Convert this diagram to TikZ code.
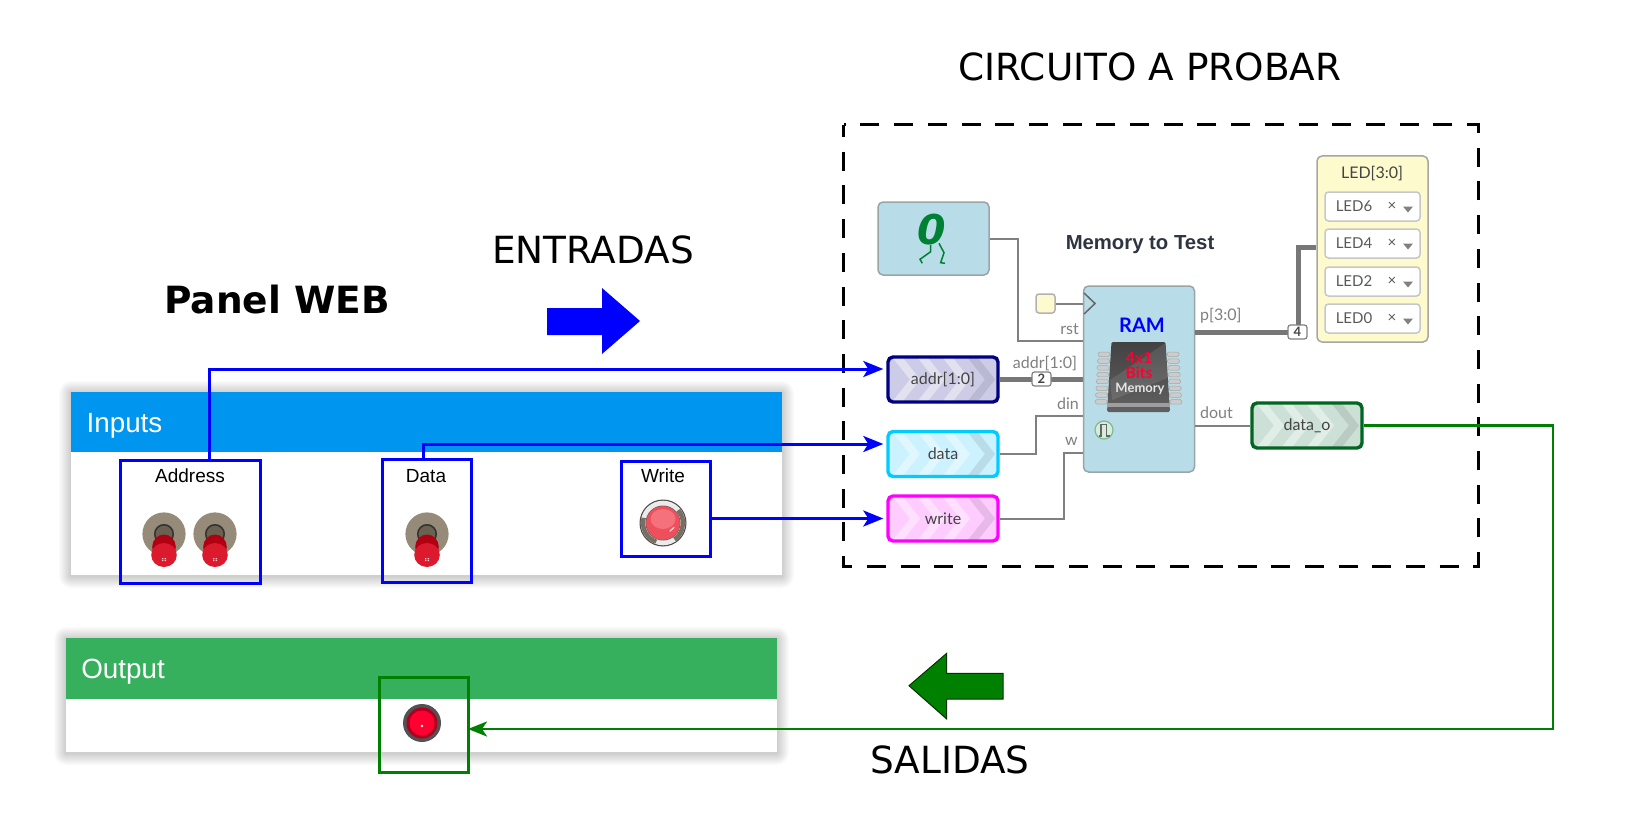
\documentclass[tikz,border=0pt]{standalone}
\usepackage{fontspec}
\setmainfont{Liberation Sans}
\newfontfamily\lato{Lato}
\newfontfamily\dejavu{DejaVu Sans}
\usetikzlibrary{arrows.meta,calc}
\definecolor{blockblue}{HTML}{B8DCE8}
\definecolor{blockedge}{HTML}{9AA5A8}
\definecolor{noteyellow}{HTML}{FDFBCD}
\definecolor{wiregray}{HTML}{808080}
\definecolor{busgray}{HTML}{777777}
\definecolor{labelgray}{HTML}{808080}
\definecolor{inkgray}{HTML}{444444}
\definecolor{headblue}{HTML}{0095EE}
\definecolor{headgreen}{HTML}{36B05C}
\definecolor{darkgreen}{HTML}{008000}
\definecolor{iconRed}{HTML}{DC1A2E}
\definecolor{iconDarkRed}{HTML}{B00012}
\definecolor{discgray}{HTML}{968B78}
\definecolor{holegray}{HTML}{6A6150}
\definecolor{btnred}{HTML}{EE4F5B}
\definecolor{btnlight}{HTML}{F4727C}
\definecolor{btnbrown}{HTML}{7A6E62}
\definecolor{ledouter}{HTML}{B00020}
\definecolor{ledinner}{HTML}{FF0030}
\definecolor{zerogreen}{HTML}{008033}
\definecolor{chipred}{HTML}{FF0030}
\definecolor{markfill}{HTML}{D8ECDC}
\definecolor{markedge}{HTML}{7DBB90}
\definecolor{navyedge}{HTML}{000080}
\definecolor{navyfill}{HTML}{CCCCE6}
\definecolor{cyanedge}{HTML}{00CCFF}
\definecolor{cyanfill}{HTML}{CCF2FF}
\definecolor{magedge}{HTML}{FF00FF}
\definecolor{magfill}{HTML}{FFCCFF}
\definecolor{goutedge}{HTML}{006622}
\definecolor{goutfill}{HTML}{CCE0D6}
\definecolor{memink}{HTML}{2F3540}
\tikzset{
  x=1pt,y=-1pt,
  fpx/.style={font=\fontsize{#1}{#1}\selectfont},
  title/.style={inner sep=0pt,font=\dejavu\fontsize{37.4}{37.4}\selectfont},
  icefont/.style={font=\lato\fontsize{#1}{#1}\selectfont},
  iceblock/.style={draw=blockedge,line width=1.5pt,fill=blockblue,rounded corners=5pt,inner sep=0pt},
  pin/.style={rounded corners=5pt,line width=3.4pt,minimum width=110pt,minimum height=45pt,inner sep=0pt,
    icefont=16,text=inkgray},
  portlabel/.style={inner sep=0pt,icefont=16,text=labelgray},
  badge/.style={draw=wiregray,line width=1.2pt,fill=white,rounded corners=2.5pt,minimum width=19pt,minimum height=14pt,inner sep=0pt,
    font=\lato\bfseries\fontsize{13}{13}\selectfont,text=inkgray},
  wire/.style={draw=wiregray,line width=2pt},
  bus/.style={draw=busgray,line width=5pt},
  ledrow/.style={draw=black!22,line width=1.5pt,fill=white,rounded corners=3.5pt,minimum width=95pt,minimum height=29pt,inner sep=0pt},
  rowtext/.style={inner sep=0pt,icefont=15,text=black!65},
  bluebox/.style={draw=blue,line width=3pt,inner sep=0pt},
  greenbox/.style={draw=darkgreen,line width=3pt,inner sep=0pt},
  bluelink/.style={draw=blue,line width=3pt,shorten >=3pt,-{Stealth[length=20pt,width=16pt,inset=5pt]}},
  greenlink/.style={draw=darkgreen,line width=2.8pt,shorten >=-2pt,-{Stealth[length=19pt,width=15pt,inset=5pt]}},
  panel/.style={fill=white,inner sep=0pt},
  paneltitle/.style={inner sep=0pt,text=white,fpx=27.8},
  panelhead/.style={inner sep=0pt},
  ctrl/.style={inner sep=0pt,fpx=19},
  chippin/.style={fill=black!20,draw=black!35,line width=.5pt,rounded corners=1.5pt},
}
% soft shadow behind a panel: #1 left, #2 top, #3 right, #4 bottom
\newcommand{\softshadow}[4]{%
  \foreach \r in {1,2,...,12}{
    \fill[black,opacity=.017,rounded corners=\r pt] (#1-\r,#2-\r+1) rectangle (#3+\r,#4+\r+1);
  }}
% toggle switch centred on the disc
\newcommand{\toggleicon}[2]{%
  \begin{scope}[shift={(#1,#2)}]
    \fill[discgray] (0,0) circle (21.6);
    \fill[holegray] (0,0) circle (10);
    \draw[black!80,line width=1.5pt] (0,0) circle (9.2);
    \fill[iconDarkRed] (0,13) ellipse (11.8 and 12.5);
    \fill[iconRed] (0,21) ellipse (12.8 and 12);
    \fill[white!80!iconRed] (-2,24) rectangle (-.7,25.2) (.7,24) rectangle (2,25.2) (-2,25.8) rectangle (-.7,27) (.7,25.8) rectangle (2,27);
  \end{scope}}
% input/output pin block: name, x, y, text, edge, fill
\newcommand{\iceport}[6]{%
  \fill[#6,rounded corners=5pt] (#2-55,#3-22.5) rectangle (#2+55,#3+22.5);
  \begin{scope}
    \clip[rounded corners=5pt] (#2-55,#3-22.5) rectangle (#2+55,#3+22.5);
    \foreach \k in {0,1,2}{
      \draw[white,opacity=.42,line width=8pt,miter limit=10] (#2-55+8+25*\k,#3-24) -- (#2-55+27+25*\k,#3) -- (#2-55+8+25*\k,#3+24);
    }
    \draw[black,opacity=.09,line width=8pt] (#2-55+83,#3-24) -- (#2-55+102,#3) -- (#2-55+83,#3+24);
  \end{scope}
  \node[pin,draw=#5] (#1) at (#2,#3) {#4};}
\begin{document}
\begin{tikzpicture}
\useasboundingbox (0,0) rectangle (1633,824);
\fill[white] (0,0) rectangle (1633,824);

% --- titles
\node[title] (tcirc) at (1150,67) {CIRCUITO A PROBAR};
\node[title] (tent) at (593,250) {ENTRADAS};
\node[title] (tsal) at (950,760) {SALIDAS};
\node[title,font=\dejavu\bfseries\fontsize{37.5}{37.5}\selectfont] (tpanel) at (277,300) {Panel WEB};

% --- big arrows
\fill[blue] (547,308) -- (602,308) -- (602,288) -- (640,321) -- (602,354) -- (602,335) -- (547,335) -- cycle;
\filldraw[fill=darkgreen,draw=black!60!darkgreen,line width=1pt] (1003,673.3) -- (946.7,673.3) -- (946.7,653.3) -- (909,685.7) -- (946.7,719) -- (946.7,699) -- (1003,699) -- cycle;

% --- Inputs panel
\softshadow{71}{392}{782}{575}
\node[panel,minimum width=711pt,minimum height=183pt] (inputs) at (426.5,483.5) {};
\node[panelhead,fill=headblue,minimum width=711pt,minimum height=60pt] (inhead) at (426.5,422) {};
\node[paneltitle] (intitle) at (124.5,426) {Inputs};

% --- Output panel
\softshadow{66}{638}{777}{752}
\node[panel,minimum width=711pt,minimum height=114pt] (outputs) at (421.5,695) {};
\node[panelhead,fill=headgreen,minimum width=711pt,minimum height=61pt] (outhead) at (421.5,668.5) {};
\node[paneltitle] (outtitle) at (123,672) {Output};

% --- controls
\node[ctrl] (laddr) at (190,476) {Address};
\node[ctrl] (ldata) at (426,476) {Data};
\node[ctrl] (lwrite) at (663,476) {Write};
\toggleicon{164}{534}
\toggleicon{215}{534}
\toggleicon{427}{534}
% push button
\fill[black!70] (663,523) circle (23.5);
\fill[white!92!black] (663,523) circle (22.3);
\draw[btnbrown,line width=4.4pt] (663,523) ++(-165:20) arc (-165:-250:20);
\draw[btnbrown,line width=4.4pt] (663,523) ++(-40:20) arc (-40:55:20);
\fill[black!60] (663,523) circle (17.5);
\fill[btnred] (663,523) circle (16.8);
\fill[btnlight] (663,519) ellipse (12.5 and 10);
\draw[white!70!btnred,line width=1.4pt,line cap=round] (670,531) -- (674,527.5);
% output LED
\fill[black!68] (422,723) circle (19);
\fill[ledouter] (422,723) circle (15.5);
\fill[ledinner] (422,723) circle (12.5);
\fill[white] (422,726) circle (1.4);

\node[bluebox,minimum width=140pt,minimum height=123pt] (baddr) at (190.5,521.5) {};
\node[bluebox,minimum width=89pt,minimum height=123pt] (bdata) at (427,520.5) {};
\node[bluebox,minimum width=89pt,minimum height=95pt] (bwrite) at (665.5,508.5) {};
\node[greenbox,minimum width=89pt,minimum height=95pt] (bled) at (424,724.5) {};

% --- dashed box
\draw[black,line width=3pt,dash pattern=on 19pt off 14.7pt,dash phase=7pt] (843.5,125) rectangle (1478,566.5);

% --- Icestudio blocks
\node[iceblock,minimum width=111pt,minimum height=73pt] (const) at (933.5,238.5) {};
\node[inner sep=0pt,text=zerogreen,font=\dejavu\bfseries\itshape\fontsize{41}{41}\selectfont] (zero) at (932,230) {0};
\draw[zerogreen,line width=1.5pt] (930.7,245) -- (930.7,251.7) -- (920,259.3) -- (922.3,263.3);
\draw[zerogreen,line width=1.5pt] (939,243.3) -- (944,252.7) -- (940.7,262.7) -- (945,263.3);

\node[inner sep=0pt,text=memink,font=\bfseries\fontsize{20.3}{20.3}\selectfont] (memtitle) at (1140,245) {Memory to Test};

\node[iceblock,minimum width=111pt,minimum height=186pt] (ram) at (1139,379) {};
\node[iceblock,draw=black!30,fill=noteyellow,rounded corners=3pt,minimum width=19pt,minimum height=19pt] (clk) at (1045.5,303.5) {};
\node[inner sep=0pt,text=blue,font=\lato\bfseries\fontsize{20}{20}\selectfont] (ramname) at (1142,325) {RAM};

% chip icon
\foreach \i in {0,...,7}{
  \fill[chippin] ({1098-\i*.4},{352+\i*6.8}) rectangle ({1110-\i*.4},{356.5+\i*6.8});
  \fill[chippin] ({1167+\i*.4},{352+\i*6.8}) rectangle ({1179+\i*.4},{356.5+\i*6.8});
}
\shade[top color=black!74,bottom color=black!62,rounded corners=1.5pt] (1111.5,342) -- (1165.5,342) -- (1170,412) -- (1107,412) -- cycle;
\fill[white,opacity=.1] (1165.5,343) -- (1167.5,378) -- (1112,400) -- (1110,380) -- cycle;
\fill[black!38] (1107,403) -- (1170,403) -- (1170,407) -- (1107,407) -- cycle;
\node[inner sep=0pt,text=chipred,font=\lato\bfseries\fontsize{15.5}{15.5}\selectfont] (chip1) at (1139,358) {4x1};
\node[inner sep=0pt,text=chipred,font=\lato\bfseries\fontsize{15.5}{15.5}\selectfont] (chip2) at (1139,372.5) {Bits};
\node[inner sep=0pt,text=white!90!black,font=\lato\bfseries\fontsize{13}{13}\selectfont] (chip3) at (1140,388.5) {Memory};

% pulse mark
\filldraw[fill=markfill,draw=markedge,line width=1.2pt] (1104,430) circle (9);
\draw[black!60,line width=1.2pt] (1098.5,436) -- (1101,436) -- (1101,424.5) -- (1106.5,424.5) -- (1106.5,436) -- (1109.5,436);

% clock triangle
\draw[draw=black!60,line width=1.5pt] (1084,293) -- (1095,303.5) -- (1084,314);

\iceport{addr}{943}{379.5}{addr[1:0]}{navyedge}{navyfill}
\iceport{data}{943}{454}{data}{cyanedge}{cyanfill}
\iceport{write}{943}{518.5}{write}{magedge}{magfill}
\iceport{dout}{1307}{425.5}{data\_o}{goutedge}{goutfill}

\node[iceblock,draw=black!35,fill=noteyellow,minimum width=111pt,minimum height=186pt] (ledbox) at (1372.5,249) {};
\node[inner sep=0pt,icefont=16,text=inkgray] (ledtitle) at (1372,173.5) {LED[3:0]};
\foreach \nm/\yy in {6/206.5,4/243.5,2/281.5,0/318.5}{
  \node[ledrow] (row\nm) at (1372.5,\yy) {};
  \node[rowtext] (rowt\nm) at (1354,\yy-.5) {LED\nm};
  \node[rowtext] (rowx\nm) at (1392,\yy) {×};
  \fill[black!50] (1403,\yy) -- (1413,\yy) -- (1408,\yy+6) -- cycle;
}

% --- port labels
\node[portlabel,anchor=east] (lrst) at (1079,329) {rst};
\node[portlabel] (laddrp) at (1045,364) {addr[1:0]};
\node[portlabel,anchor=east] (ldin) at (1079,404) {din};
\node[portlabel,anchor=east] (lw) at (1078,441) {w};
\node[portlabel,anchor=west] (lp) at (1200,316) {p[3:0]};
\node[portlabel,anchor=west] (ldout) at (1200,413) {dout};

% --- icestudio wires
\coordinate (rstturn) at (1017.5,341);
\coordinate (dinturn) at (1036,416);
\coordinate (wturn) at (1064,453);
\coordinate (ledturn) at (1298,247);
\coordinate (pout) at (1194.5,332);
\draw[wire] (const.east) -- (const.east -| rstturn) -- (rstturn) -- (rstturn -| ram.west);
\draw[wire] (clk.east) -- (clk.east -| ram.west);
\draw[bus] (addr.east) -- (addr.east -| ram.west);
\node[badge] (b2) at (1041.5,379) {2};
\draw[wire] (data.east) -- (data.east -| dinturn) -- (dinturn) -- (dinturn -| ram.west);
\draw[wire] (write.east) -- (write.east -| wturn) -- (wturn) -- (wturn -| ram.west);
\draw[wire] (ram.east |- dout.west) -- (dout.west);
\draw[bus] (pout) -- (pout -| ledturn) -- (ledturn) -- (ledturn -| ledbox.west);
\node[badge] (b4) at (1297.5,332) {4};

% --- blue and green links
\coordinate (gcorner) at (1553,729);
\draw[bluelink] ([xshift=18.5pt]baddr.north) |- ([yshift=10.5pt]addr.west);
\draw[bluelink] ([xshift=-4pt]bdata.north) |- ([yshift=10pt]data.west);
\draw[bluelink] (bwrite.east |- write.west) -- (write.west);
\draw[greenlink] (dout.east) -| (gcorner) -- (gcorner -| bled.east);
\end{tikzpicture}
\end{document}
